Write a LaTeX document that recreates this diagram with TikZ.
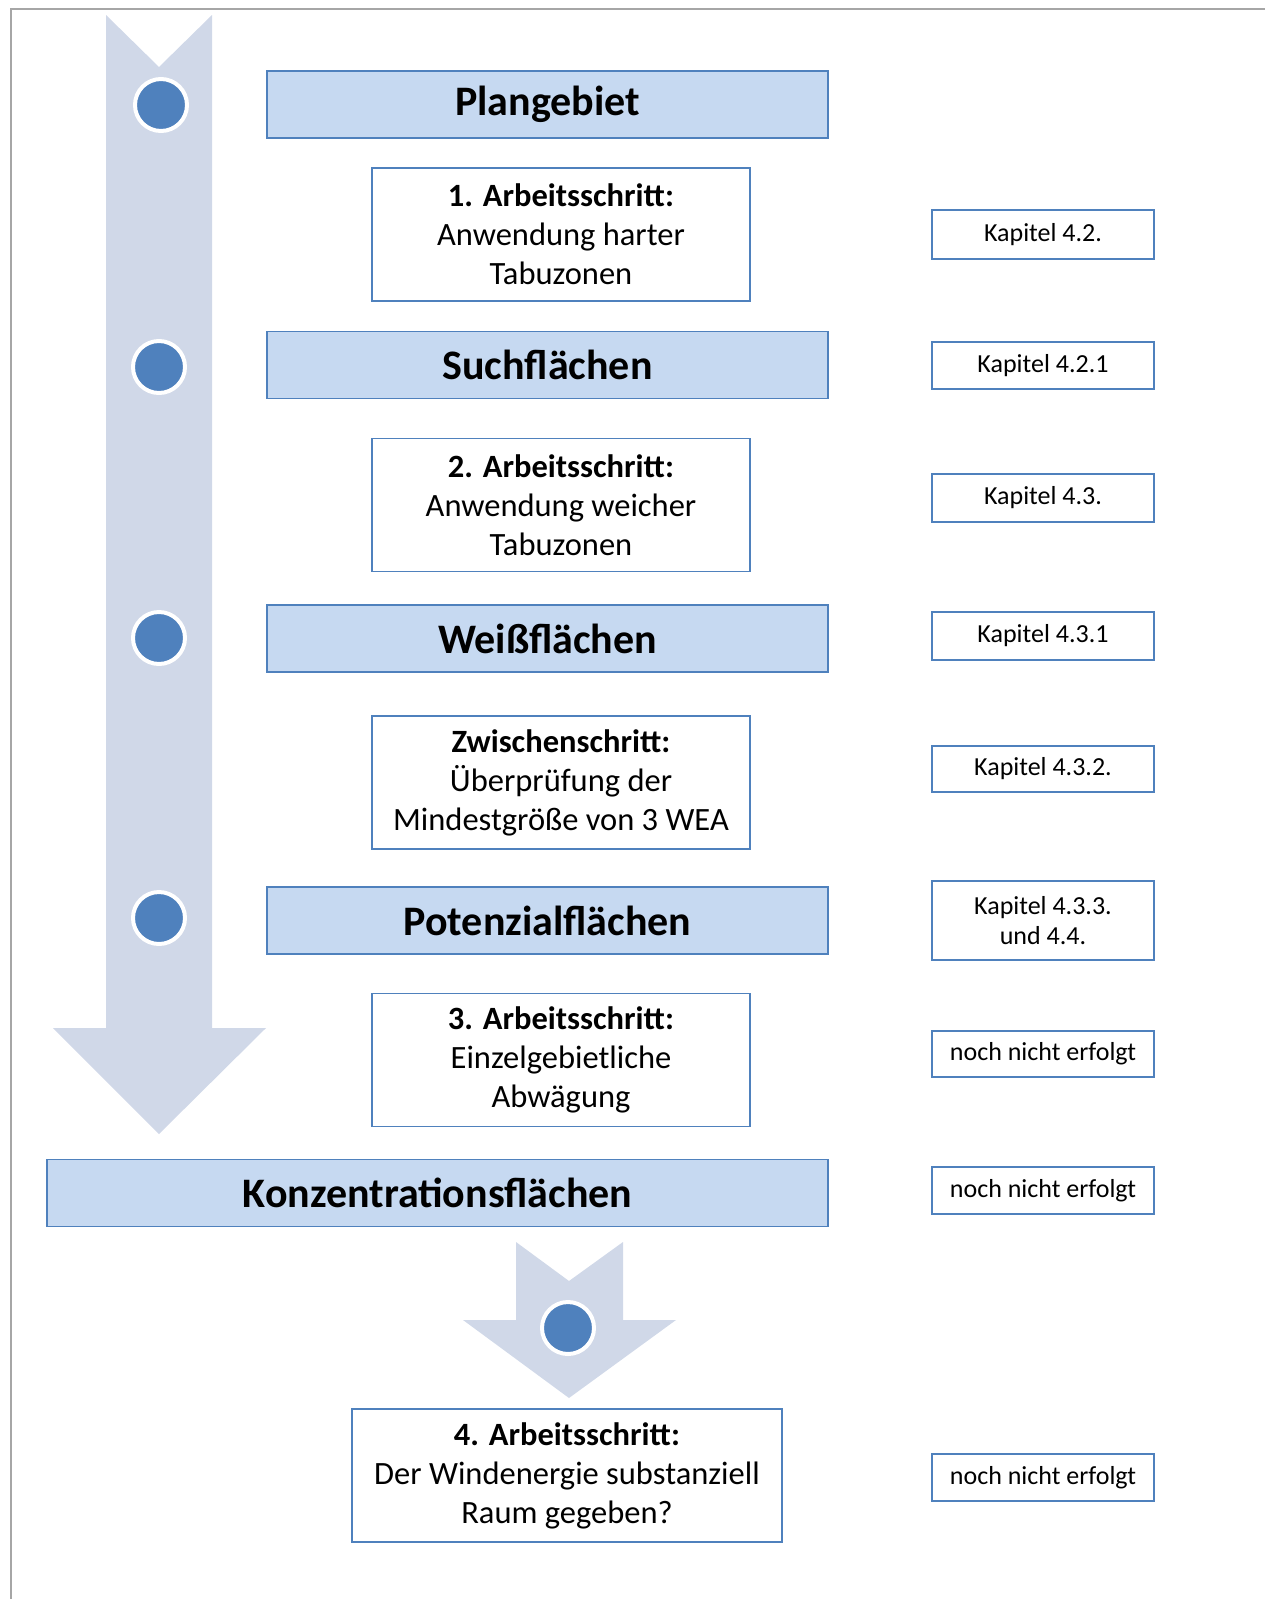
\documentclass[tikz,border=0pt]{standalone}
\usepackage{fontspec}
\setmainfont{Carlito}
\definecolor{framegray}{HTML}{A6A6A6}
\definecolor{arrowfill}{HTML}{D0D8E8}
\definecolor{headfill}{HTML}{C6D9F1}
\definecolor{boxline}{HTML}{4F81BD}
\tikzset{
  heading/.style={draw=boxline,fill=headfill,line width=1.5pt,minimum height=67pt,inner sep=0pt,font=\fontsize{42}{48}\selectfont\bfseries},
  stepbox/.style={draw=boxline,fill=white,line width=1.5pt,minimum height=133pt,inner sep=0pt,align=center,font=\fontsize{32.5}{39}\selectfont},
  chapter/.style={draw=boxline,fill=white,line width=1.5pt,minimum width=222pt,inner sep=0pt,align=center,font=\fontsize{26}{30}\selectfont},
  bullet/.style={circle,fill=boxline,draw=white,line width=4pt,minimum size=52pt,inner sep=0pt}
}

\begin{document}
\begin{tikzpicture}[x=1pt,y=-1pt]
                \useasboundingbox (0,0) rectangle (1265,1599);
                \draw[framegray,line width=2pt] (11,1599) -- (11,9) -- (1265,9);
                % big arrow and small arrow
                \fill[arrowfill] (106,15) -- (159,67) -- (212,15) -- (212,1028) -- (266,1028) -- (159,1134) -- (53,1028) -- (106,1028) -- cycle;
                \fill[arrowfill] (516,1242) -- (569,1281) -- (623,1242) -- (623,1320) -- (676,1320) -- (569,1398) -- (463,1320) -- (516,1320) -- cycle;
                \foreach \x/\y/\n in {161/105/dot1, 159/367/dot2, 159/638/dot3, 159/918/dot4, 568/1328/dot5}
                \node[bullet] (\n) at (\x,\y) {};
                \foreach \x/\y/\w/\n/\t in {547.5/104.5/561/plangebiet/Plangebiet, 547.5/365/561/such/Suchflächen, 547.5/638.5/561/weiss/Weißflächen, 547.5/920.5/561/potenzial/Potenzialflächen, 437.5/1193/781/konzentration/Konzentrationsflächen}
                \node[heading,minimum width=\w pt] (\n) at (\x,\y) {\t};
                \foreach \x/\y/\w/\n/\t in {561/234.5/378/step1/{\textbf{1. Arbeitsschritt:}\\Anwendung harter\\Tabuzonen}, 561/505/378/step2/{\textbf{2. Arbeitsschritt:}\\Anwendung weicher\\Tabuzonen}, 561/782.5/378/zwischen/{\textbf{Zwischenschritt:}\\Überprüfung der\\Mindestgröße von 3 WEA}, 561/1060/378/step3/{\textbf{3. Arbeitsschritt:}\\Einzelgebietliche\\Abwägung}, 567/1475.5/430/step4/{\textbf{4. Arbeitsschritt:}\\Der Windenergie substanziell\\Raum gegeben?}}
                \node[stepbox,minimum width=\w pt] (\n) at (\x,\y) {\t};
                \foreach \y/\h/\n/\t in {234.5/49/kap1/Kapitel 4.2., 365.5/47/kap2/Kapitel 4.2.1, 498/48/kap3/Kapitel 4.3., 636/48/kap4/Kapitel 4.3.1, 769/46/kap5/Kapitel 4.3.2., 920.5/79/kap6/{Kapitel 4.3.3.\\und 4.4.}, 1054/46/kap7/noch nicht erfolgt, 1190.5/47/kap8/noch nicht erfolgt, 1477.5/47/kap9/noch nicht erfolgt}
                \node[chapter,minimum height=\h pt] (\n) at (1043,\y) {\t};
            \end{tikzpicture}
\end{document}
